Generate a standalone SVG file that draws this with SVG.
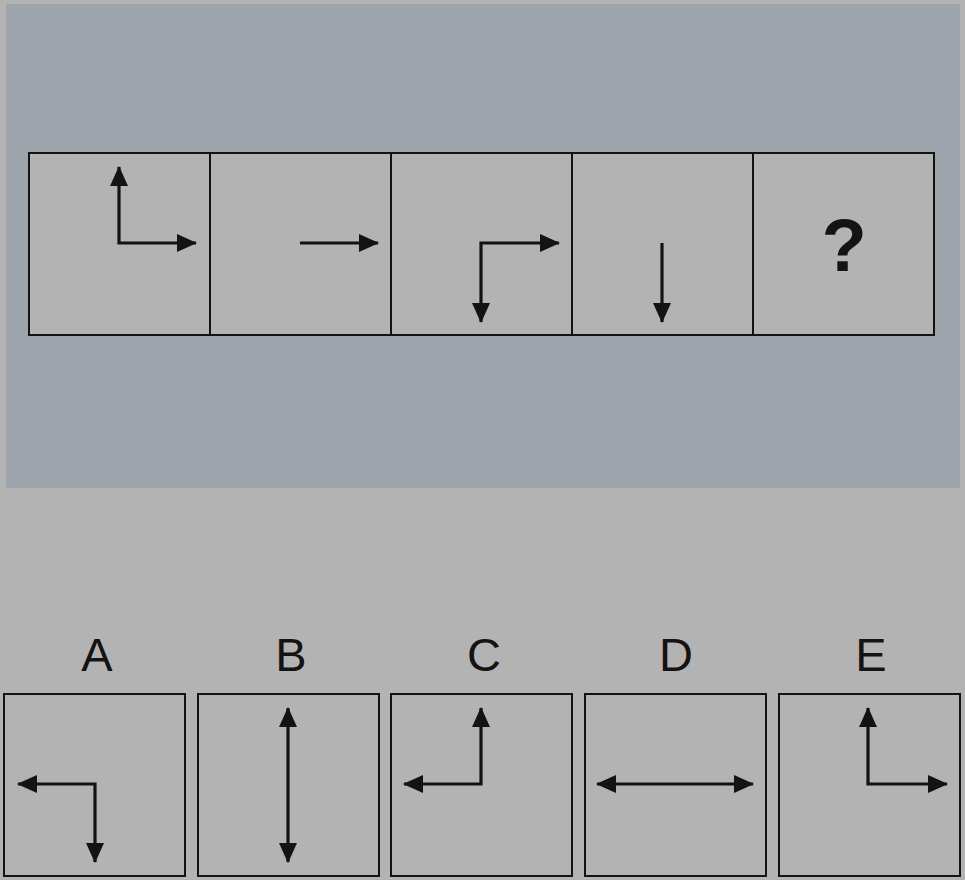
<svg xmlns="http://www.w3.org/2000/svg" width="965" height="880" viewBox="0 0 965 880">
<style>
.cell{fill:#b3b3b3;stroke:#151212;stroke-width:2}
.ar{stroke:#151212;stroke-width:3.2;fill:none}
.lbl{font-family:"Liberation Sans",Arial,sans-serif;font-size:47px;fill:#151212;text-anchor:middle}
.q{font-family:"Liberation Sans",Arial,sans-serif;font-size:74px;font-weight:bold;fill:#151212;text-anchor:middle}
</style>
<defs>
<marker id="ah" viewBox="0 0 20 18" refX="19" refY="9" markerWidth="20" markerHeight="18" markerUnits="userSpaceOnUse" orient="auto-start-reverse">
<path d="M0,0 L20,9 L0,18 Z" fill="#151212"/>
</marker>
</defs>
<rect width="965" height="880" fill="#b3b3b3"/>
<rect x="6" y="4" width="954" height="484" fill="#9ea4ac"/>
<g id="sequence">
<g id="cell1"><rect class="cell" x="29" y="153" width="181" height="182"/>
<path class="ar" d="M119,167 V243 H196" marker-start="url(#ah)" marker-end="url(#ah)"/></g>
<g id="cell2"><rect class="cell" x="210" y="153" width="181" height="182"/>
<path class="ar" d="M300,243 H378" marker-end="url(#ah)"/></g>
<g id="cell3"><rect class="cell" x="391" y="153" width="181" height="182"/>
<path class="ar" d="M481,322 V243 H559" marker-start="url(#ah)" marker-end="url(#ah)"/></g>
<g id="cell4"><rect class="cell" x="572" y="153" width="181" height="182"/>
<path class="ar" d="M662,243 V322" marker-end="url(#ah)"/></g>
<g id="cell5"><rect class="cell" x="753" y="153" width="181" height="182"/>
<text class="q" x="844" y="271">?</text></g>
</g>
<g id="options">
<g id="optA"><text class="lbl" x="97" y="671">A</text>
<rect class="cell" x="4" y="694" width="181" height="182"/>
<path class="ar" d="M18,784 H95 V862" marker-start="url(#ah)" marker-end="url(#ah)"/></g>
<g id="optB"><text class="lbl" x="291" y="671">B</text>
<rect class="cell" x="198" y="694" width="181" height="182"/>
<path class="ar" d="M288,708 V862" marker-start="url(#ah)" marker-end="url(#ah)"/></g>
<g id="optC"><text class="lbl" x="484" y="671">C</text>
<rect class="cell" x="391" y="694" width="181" height="182"/>
<path class="ar" d="M404,784 H481 V708" marker-start="url(#ah)" marker-end="url(#ah)"/></g>
<g id="optD"><text class="lbl" x="676" y="671">D</text>
<rect class="cell" x="585" y="694" width="181" height="182"/>
<path class="ar" d="M597,784 H753" marker-start="url(#ah)" marker-end="url(#ah)"/></g>
<g id="optE"><text class="lbl" x="871" y="671">E</text>
<rect class="cell" x="779" y="694" width="181" height="182"/>
<path class="ar" d="M868,708 V784 H947" marker-start="url(#ah)" marker-end="url(#ah)"/></g>
</g>
</svg>
